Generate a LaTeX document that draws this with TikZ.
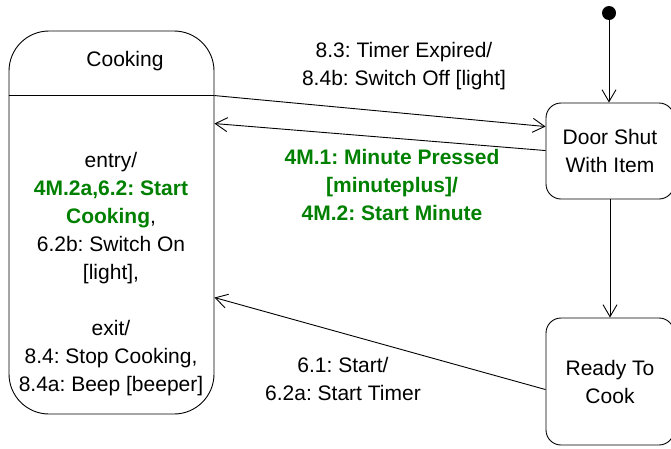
\documentclass[tikz,border=0pt]{standalone}
\usepackage{fontspec}
\setmainfont{Liberation Sans}
\usetikzlibrary{arrows.meta,positioning,calc}
\definecolor{msgreen}{RGB}{0,128,0}
\frenchspacing

\begin{document}
\begin{tikzpicture}[x=1pt,y=-1pt,line width=0.9pt,
  font=\fontsize{21}{28}\selectfont,
  state/.style={draw,rounded corners=15,minimum width=128,align=center},
  trans/.style={->,>={Straight Barb[length=12pt,width=14pt]}},
  lbl/.style={align=center},
  glbl/.style={align=center,text=msgreen,font=\fontsize{21}{28}\selectfont\bfseries}
]
  \useasboundingbox (0,0) rectangle (671,448);
  % states
  \node[fill,circle,inner sep=0pt,minimum size=14] (init) at (609,13) {};
  \node[state,minimum height=96] (shut) at (610,151) {Door Shut\\With Item};
  \node[state,minimum height=127] (ready) at (610,381.5) {Ready To\\Cook};
  \node[draw,rounded corners=40,minimum width=205,minimum height=383] (cook) at (111.5,222.5) {};
  \coordinate (dive) at ($(cook.north east)+(0,65)$);
  \draw (cook.west |- dive) -- (dive);
  \node (cooktitle) at (125,61) {Cooking};
  \node[align=center] (cookbody) at (111,274) {entry/\\
    \textcolor{msgreen}{\bfseries 4M.2a,6.2: Start}\\
    \textcolor{msgreen}{\bfseries Cooking},\\
    6.2b: Switch On\\{}[light],\\[28pt]
    exit/\\8.4: Stop Cooking,\\8.4a: Beep [beeper]};
  % transitions
  \draw[trans] (init) -- (init |- shut.north);
  \draw[trans] (shut) -- (ready);
  \draw[trans] (dive) -- ($(shut.north west)+(0,24)$);
  \draw[trans] ($(shut.north west)+(0,48)$) -- ($(cook.north east)+(0,93)$);
  \draw[trans] ($(ready.north west)+(0,72)$) -- ($(cook.north east)+(0,267)$);
  % labels
  \node[lbl] (lblexp) at (404,66) {8.3: Timer Expired/\\8.4b: Switch Off [light]};
  \node[glbl] (lblmin) at (392,185) {4M.1: Minute Pressed\\{}[minuteplus]/\\4M.2: Start Minute};
  \node[lbl] (lblstart) at (343,378.5) {6.1: Start/\\6.2a: Start Timer};
\end{tikzpicture}
\end{document}
